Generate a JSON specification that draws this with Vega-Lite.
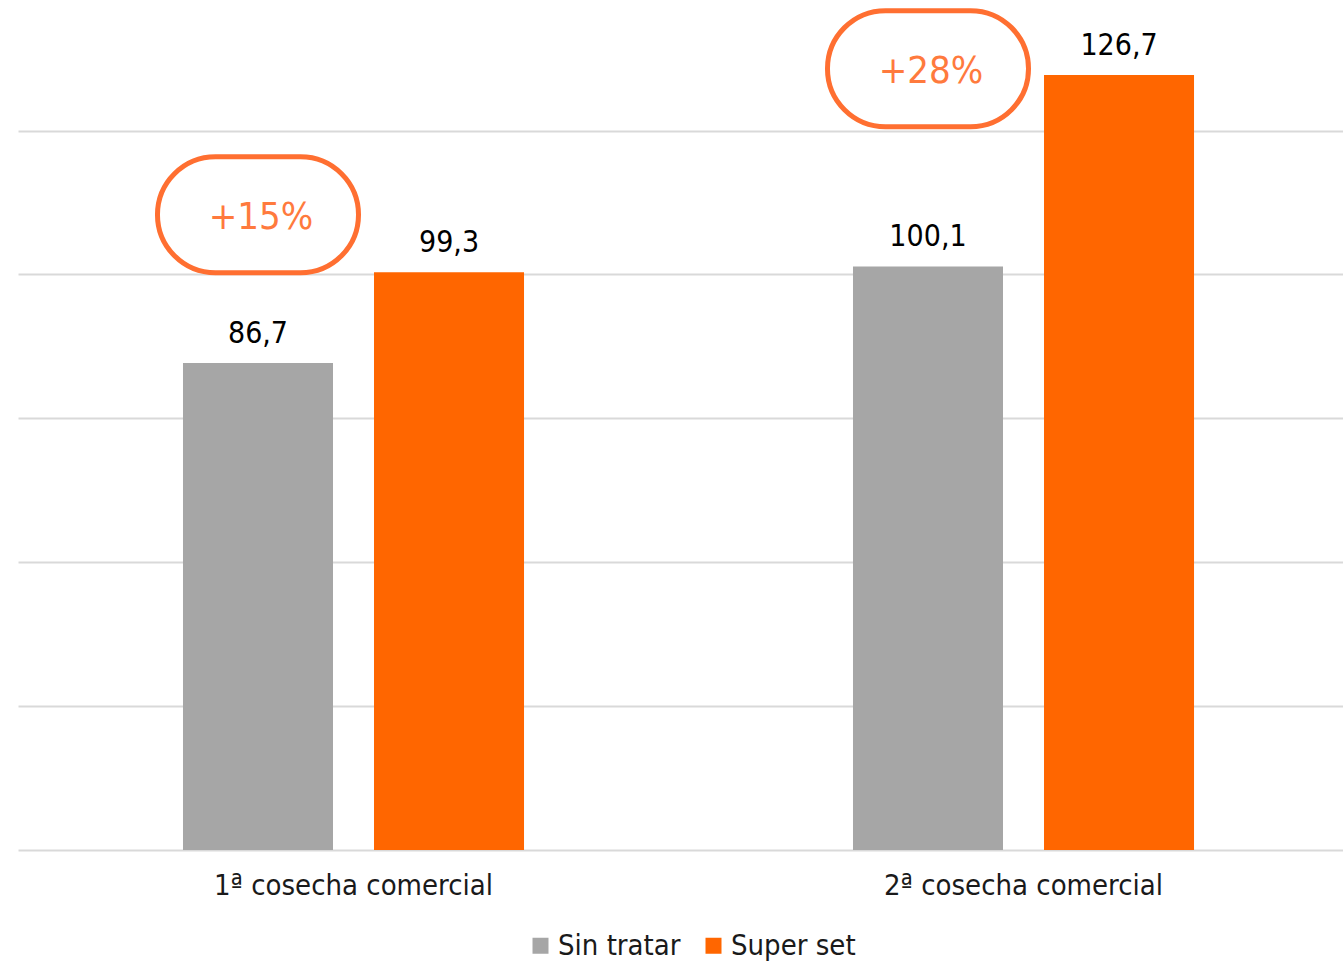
{
  "$schema": "https://vega.github.io/schema/vega-lite/v6.json",
  "width": 1325,
  "height": 849,
  "padding": {"left": 18, "top": 0, "right": 0, "bottom": 0},
  "background": "#ffffff",
  "config": {
    "locale": {"number": {"decimal": ",", "thousands": ".", "grouping": [3], "currency": ["", " €"]}},
    "font": "DejaVu Sans Condensed, DejaVu Sans, sans-serif",
    "view": {"stroke": null}
  },
  "datasets": {
    "bars": [
      {"grupo": "1ª cosecha comercial", "serie": "Sin tratar", "valor": 86.7},
      {"grupo": "1ª cosecha comercial", "serie": "Super set", "valor": 99.3},
      {"grupo": "2ª cosecha comercial", "serie": "Sin tratar", "valor": 100.1},
      {"grupo": "2ª cosecha comercial", "serie": "Super set", "valor": 126.7}
    ],
    "notas": [
      {"grupo": "1ª cosecha comercial", "serie": "Sin tratar", "y": 107.3, "texto": "+15%"},
      {"grupo": "2ª cosecha comercial", "serie": "Sin tratar", "y": 127.6, "texto": "+28%"}
    ]
  },
  "encoding": {
    "x": {
      "field": "grupo", "type": "nominal", "title": null,
      "scale": {"paddingInner": 0.491, "paddingOuter": 0.2343, "align": 0.5255},
      "axis": {"labelAngle": 0, "labelFontSize": 29, "labelColor": "#1a1a1a", "labelPadding": 21, "labelLimit": 0, "ticks": false, "domain": false}
    },
    "xOffset": {"field": "serie", "type": "nominal", "scale": {"paddingInner": 0.2147, "paddingOuter": 0}}
  },
  "layer": [
    {
      "data": {"name": "bars"},
      "mark": {"type": "bar", "clip": true},
      "encoding": {
        "y": {
          "field": "valor", "type": "quantitative", "title": null,
          "scale": {"domain": [19, 137], "zero": false, "nice": false},
          "axis": {"values": [19, 39, 59, 79, 99, 119], "labels": false, "ticks": false, "domain": false, "grid": true, "gridColor": "#d9d9d9", "gridWidth": 2}
        },
        "color": {
          "field": "serie", "type": "nominal", "title": null,
          "scale": {"domain": ["Sin tratar", "Super set"], "range": ["#a6a6a6", "#ff6600"]},
          "legend": {"orient": "none", "legendX": 508, "legendY": 930, "direction": "horizontal", "symbolType": "square", "symbolSize": 256, "symbolStrokeWidth": 0, "labelFontSize": 29, "labelColor": "#1a1a1a", "columnPadding": 18, "labelOffset": 3}
        }
      }
    },
    {
      "data": {"name": "bars"},
      "mark": {"type": "text", "baseline": "alphabetic", "dy": -20, "fontSize": 30, "color": "#000000"},
      "encoding": {
        "y": {"field": "valor", "type": "quantitative"},
        "text": {"field": "valor", "type": "quantitative", "format": ".1f"}
      }
    },
    {
      "data": {"name": "notas"},
      "mark": {
        "type": "point",
        "shape": "M-0.733,-1 L0.733,-1 A1,1 0 0 1 0.733,1 L-0.733,1 A1,1 0 0 1 -0.733,-1 Z",
        "size": 13456, "filled": false, "stroke": "#ff6f31", "strokeWidth": 5, "opacity": 1
      },
      "encoding": {
        "y": {"field": "y", "type": "quantitative"}
      }
    },
    {
      "data": {"name": "notas"},
      "mark": {"type": "text", "baseline": "middle", "dy": 3, "dx": 3, "fontSize": 38, "color": "#ff7a3d"},
      "encoding": {
        "y": {"field": "y", "type": "quantitative"},
        "text": {"field": "texto", "type": "nominal"}
      }
    }
  ]
}
